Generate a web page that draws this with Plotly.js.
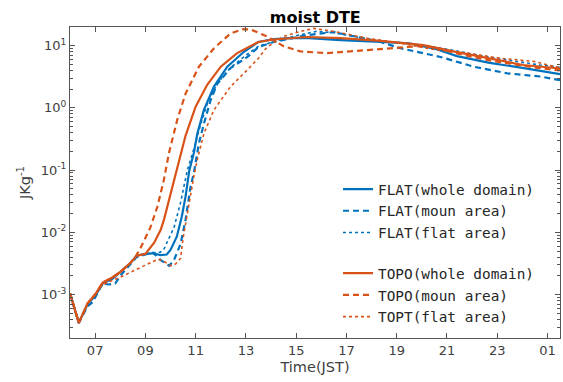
<!DOCTYPE html>
<html>
<head>
<meta charset="utf-8">
<script src="https://cdn.plot.ly/plotly-3.0.1.min.js"></script>
<style>html,body{margin:0;padding:0;background:#fff;}#chart{width:563px;height:382px;}</style>
</head>
<body>
<div id="chart"></div>
<script>
// Time in hours (JST), 25 = 01 next day
const flatWholeT = [6.0,6.35,6.7,7.0,7.3,7.7,8.0,8.4,8.65,9.0,9.3,9.6,9.85,10.0,10.25,10.45,10.6,10.75,10.93,11.07,11.33,11.73,12.26,12.92,13.5,14.1,14.77,15.5,16.77,17.5,18.36,19.5,20.5,21.4,22.7,24.0,25.5];
const flatWholeV = [1.05e-3,3.5e-4,7.0e-4,9.5e-4,1.5e-3,1.8e-3,2.3e-3,3.2e-3,4.2e-3,4.5e-3,4.6e-3,4.3e-3,4.4e-3,5.2e-3,8.5e-3,1.8e-2,3.8e-2,0.1,0.19,0.39,0.93,2.2,4.6,8.0,11.5,12.8,13.2,13.2,12.3,12.0,11.5,10.9,9.0,6.8,5.3,4.4,3.5];

const flatMounT = [6.0,6.35,6.7,6.9,7.0,7.3,7.55,7.8,8.0,8.3,8.65,9.0,9.3,9.6,9.95,10.14,10.4,10.6,10.8,10.93,11.13,11.33,11.6,11.86,12.4,13.06,13.5,14.1,15.44,16.5,17.43,18.36,19.15,20.74,22.07,23.4,24.7,25.5];
const flatMounV = [1.05e-3,3.5e-4,6.5e-4,7.5e-4,9.0e-4,1.5e-3,1.45e-3,1.5e-3,2.0e-3,2.8e-3,4.0e-3,4.4e-3,4.7e-3,3.6e-3,2.9e-3,3.6e-3,6.5e-3,1.6e-2,5.5e-2,0.09,0.27,0.56,1.35,2.45,4.4,6.6,9.5,11.5,14.8,16.6,13.8,11.5,9.1,6.6,4.6,3.6,3.2,2.8];

const flatFlatT = [6.0,6.35,6.7,7.0,7.3,7.7,8.0,8.4,8.65,9.0,9.3,9.6,9.74,10.14,10.4,10.67,10.93,11.2,11.5,11.9,12.4,13.0,13.5,14.1,15.0,15.8,16.5,18.1,20.1,21.4,22.7,24.7,25.5];
const flatFlatV = [1.05e-3,3.5e-4,7.0e-4,9.5e-4,1.5e-3,1.8e-3,2.3e-3,3.2e-3,4.2e-3,4.5e-3,4.7e-3,4.8e-3,5.4e-3,1.2e-2,3.0e-2,0.1,0.22,0.55,1.3,2.6,4.5,7.0,9.8,11.6,14.5,17.0,16.2,12.3,10.2,8.2,6.5,4.9,4.5];

const topoWholeT = [6.0,6.35,6.7,7.0,7.3,7.7,8.0,8.4,8.65,9.0,9.35,9.61,9.74,10.0,10.27,10.6,11.0,11.46,12.0,12.65,13.5,14.1,15.44,16.77,18.36,20.06,21.4,22.7,24.04,25.5];
const topoWholeV = [1.05e-3,3.5e-4,7.2e-4,1.0e-3,1.55e-3,1.9e-3,2.3e-3,3.2e-3,4.2e-3,4.5e-3,6.8e-3,1.1e-2,1.6e-2,4.1e-2,0.1,0.36,1.05,2.35,4.6,7.6,11.5,12.6,13.8,13.2,12.0,10.2,7.9,6.3,4.9,4.3];

const topoMounT = [6.0,6.35,6.7,7.0,7.3,7.7,8.0,8.4,8.6,8.8,9.2,9.48,9.74,9.94,10.27,10.6,11.13,11.73,12.39,12.9,13.2,13.84,14.5,15.17,16.23,17.16,18.48,19.8,20.5,21.4,22.7,24.6,25.5];
const topoMounV = [1.05e-3,3.5e-4,7.2e-4,1.0e-3,1.55e-3,1.9e-3,2.3e-3,3.2e-3,4.0e-3,5.5e-3,1.2e-2,2.6e-2,7.1e-2,0.19,0.65,1.7,4.6,9.1,15.8,18.5,18.2,14.1,9.8,8.1,7.6,8.1,9.1,9.8,9.5,7.5,5.8,4.4,4.0];

const topoFlatT = [6.0,6.35,6.7,7.0,7.3,8.0,8.8,9.5,9.7,10.0,10.2,10.4,10.5,10.7,10.93,11.07,11.33,11.73,12.39,13.06,13.5,13.84,14.5,15.17,15.7,16.5,17.83,19.14,20.47,21.8,23.12,24.45,25.5];
const topoFlatV = [1.05e-3,3.5e-4,7.2e-4,1.0e-3,1.45e-3,1.9e-3,2.7e-3,3.7e-3,3.5e-3,2.9e-3,3.1e-3,3.8e-3,8e-3,2.5e-2,0.08,0.15,0.39,0.93,2.2,4.1,6.3,9.5,14.1,17.0,19.0,17.0,13.2,11.0,8.7,7.6,6.3,5.6,4.4];

const tickHours = [7,9,11,13,15,17,19,21,23,25];
const tickLabels = ['07','09','11','13','15','17','19','21','23','01'];
const yTickVals = [1e-3,1e-2,1e-1,1,10];
const yTickText = ['10<sup>-3</sup>','10<sup>-2</sup>','10<sup>-1</sup>','10<sup>0</sup>','10<sup>1</sup>'];

const BLUE = '#0072BD', ORANGE = '#D95319';

const traces = [
  {x: flatWholeT, y: flatWholeV, name: 'FLAT(whole domain)', legendgroup: 'flat', line: {color: BLUE, width: 2.2, dash: 'solid'}},
  {x: flatMounT, y: flatMounV, name: 'FLAT(moun area)', legendgroup: 'flat', line: {color: BLUE, width: 2.2, dash: '6px,4px'}},
  {x: flatFlatT, y: flatFlatV, name: 'FLAT(flat area)', legendgroup: 'flat', line: {color: BLUE, width: 1.6, dash: 'dot'}},
  {x: topoWholeT, y: topoWholeV, name: 'TOPO(whole domain)', legendgroup: 'topo', line: {color: ORANGE, width: 2.2, dash: 'solid'}},
  {x: topoMounT, y: topoMounV, name: 'TOPO(moun area)', legendgroup: 'topo', line: {color: ORANGE, width: 2.2, dash: '6px,4px'}},
  {x: topoFlatT, y: topoFlatV, name: 'TOPT(flat area)', legendgroup: 'topo', line: {color: ORANGE, width: 1.6, dash: 'dot'}}
].map(t => Object.assign({type: 'scatter', mode: 'lines'}, t));

const axisCommon = {
  showline: true, linecolor: '#555', linewidth: 1, mirror: 'ticks',
  ticks: 'inside', ticklen: 5, tickcolor: '#555', tickwidth: 1,
  showgrid: false, zeroline: false,
  tickfont: {family: 'DejaVu Sans, sans-serif', size: 13, color: '#404040'}
};

const layout = {
  width: 563, height: 382,
  margin: {l: 69.5, r: 3, t: 27, b: 44, pad: 0},
  paper_bgcolor: '#fff', plot_bgcolor: '#fff',
  title: {text: '<b>moist DTE</b>', font: {family: 'DejaVu Sans, sans-serif', size: 16, color: '#000'}, x: 0.56, xanchor: 'center', y: 0.955, yanchor: 'middle'},
  xaxis: Object.assign({}, axisCommon, {
    range: [6, 25.5], tickvals: tickHours, ticktext: tickLabels,
    title: {text: 'Time(JST)', font: {family: 'DejaVu Sans, sans-serif', size: 14.5, color: '#404040'}, standoff: 5}
  }),
  yaxis: Object.assign({}, axisCommon, {
    type: 'log', range: [Math.log10(2e-4), Math.log10(20)],
    tickvals: yTickVals, ticktext: yTickText,
    minor: {ticks: 'inside', ticklen: 3, tickcolor: '#555', dtick: 'D1', showgrid: false},
    title: {text: 'JKg<sup>-1</sup>', font: {family: 'DejaVu Sans, sans-serif', size: 14.5, color: '#404040'}, standoff: 6}
  }),
  showlegend: true,
  legend: {
    x: 0.547, y: 0.53, xanchor: 'left', yanchor: 'top',
    bgcolor: 'rgba(0,0,0,0)', borderwidth: 0,
    traceorder: 'grouped', tracegroupgap: 19,
    font: {family: 'DejaVu Sans Mono, monospace', size: 14.4, color: '#262626'}
  }
};

Plotly.newPlot('chart', traces, layout, {displayModeBar: false, staticPlot: true});
</script>
</body>
</html>
